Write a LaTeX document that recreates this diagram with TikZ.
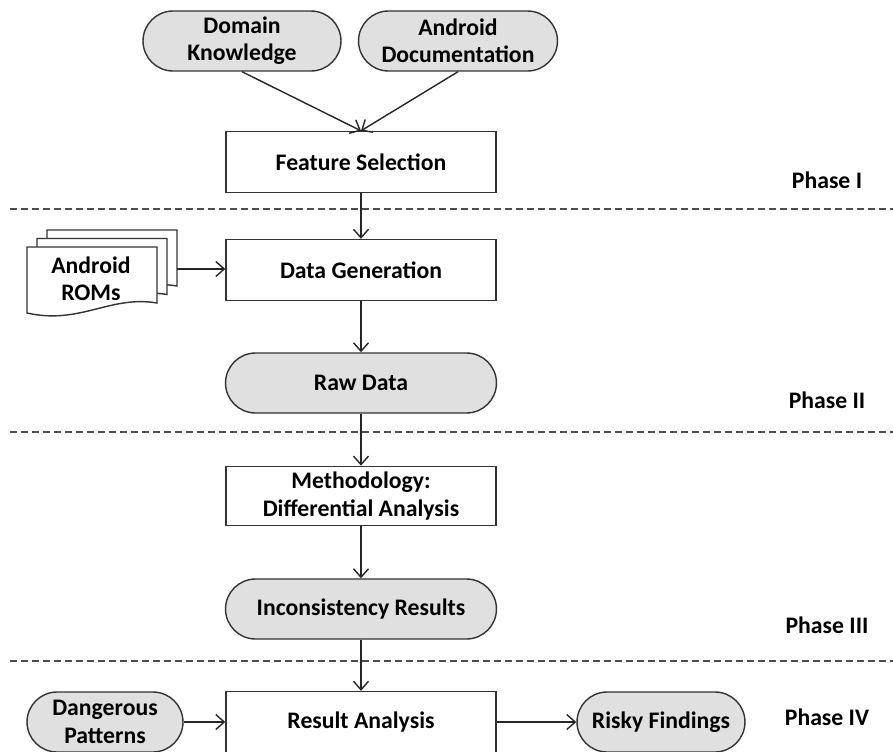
\documentclass[tikz,border=0pt]{standalone}
\usepackage{fontspec}
\setmainfont{Carlito}
\usetikzlibrary{arrows.meta}

\begin{document}
\begin{tikzpicture}[x=0.02cm, y=-0.02cm, >={Straight Barb[length=1.7mm,width=3mm]},
	every node/.style={font=\fontsize{13.5}{15.5}\selectfont\bfseries, align=center},
	box/.style={draw=black!80, line width=0.8pt, fill=white, minimum width=5.4cm, minimum height=1.22cm},
	term/.style={draw=black!80, line width=0.8pt, fill=black!12, rounded corners=0.6cm, minimum height=1.2cm},
	sep/.style={draw=black!70, line width=0.8pt, dash pattern=on 0.14cm off 0.08cm},
	flow/.style={->, line width=0.8pt, draw=black!85}]
		\useasboundingbox (0,0) rectangle (893,751);
		\clip (0,0) rectangle (893,751);
		\draw[sep] (10,209) -- (893,209);
		\draw[sep] (10,432) -- (893,432);
		\draw[sep] (10,661) -- (893,661);
		\node[term, minimum width=3.96cm] (dk) at (242,41) {Domain\\Knowledge};
		\node[term, minimum width=3.98cm] (ad) at (458,41) {Android\\Documentation};
		\node[box] (fs) at (361,162) {Feature Selection};
		\node[box] (dg) at (361,270) {Data Generation};
		\node[term, minimum width=5.42cm] (rd) at (361,383) {Raw Data};
		\node[box, minimum height=1.18cm] (meth) at (361,496) {Methodology:\\Differential Analysis};
		\node[term, minimum width=5.42cm] (ir) at (361,609) {Inconsistency Results};
		\node[box] (ra) at (361,722) {Result Analysis};
		\node[term, minimum width=3.12cm] (dp) at (105,722) {Dangerous\\Patterns};
		\node[term, minimum width=3.36cm] (rf) at (661,722) {Risky Findings};
		\foreach \d in {2,1,0}
			\draw[black!80, line width=0.8pt, fill=white, shift={(10*\d,-8.5*\d)}]
				(27,247) -- (157,247) -- (157,303) .. controls (110,295) and (80,325) .. (27,313) -- cycle;
		\node (rom) at (91,279) {Android\\ROMs};
		\coordinate (romr) at (177,269);
		\node (p1) at (827,180) {Phase I};
		\node (p2) at (827,400) {Phase II};
		\node (p3) at (827,625) {Phase III};
		\node (p4) at (827,717) {Phase IV};
		\draw[flow] (dk.south) -- (fs.north);
		\draw[flow] (ad.south) -- (fs.north);
		\draw[flow] (fs) -- (dg);
		\draw[flow] (romr) -- (romr -| dg.west);
		\draw[flow] (dg) -- (rd);
		\draw[flow] (rd) -- (meth);
		\draw[flow] (meth) -- (ir);
		\draw[flow] (ir) -- (ra);
		\draw[flow] (dp) -- (ra);
		\draw[flow] (ra) -- (rf);
	\end{tikzpicture}
\end{document}
